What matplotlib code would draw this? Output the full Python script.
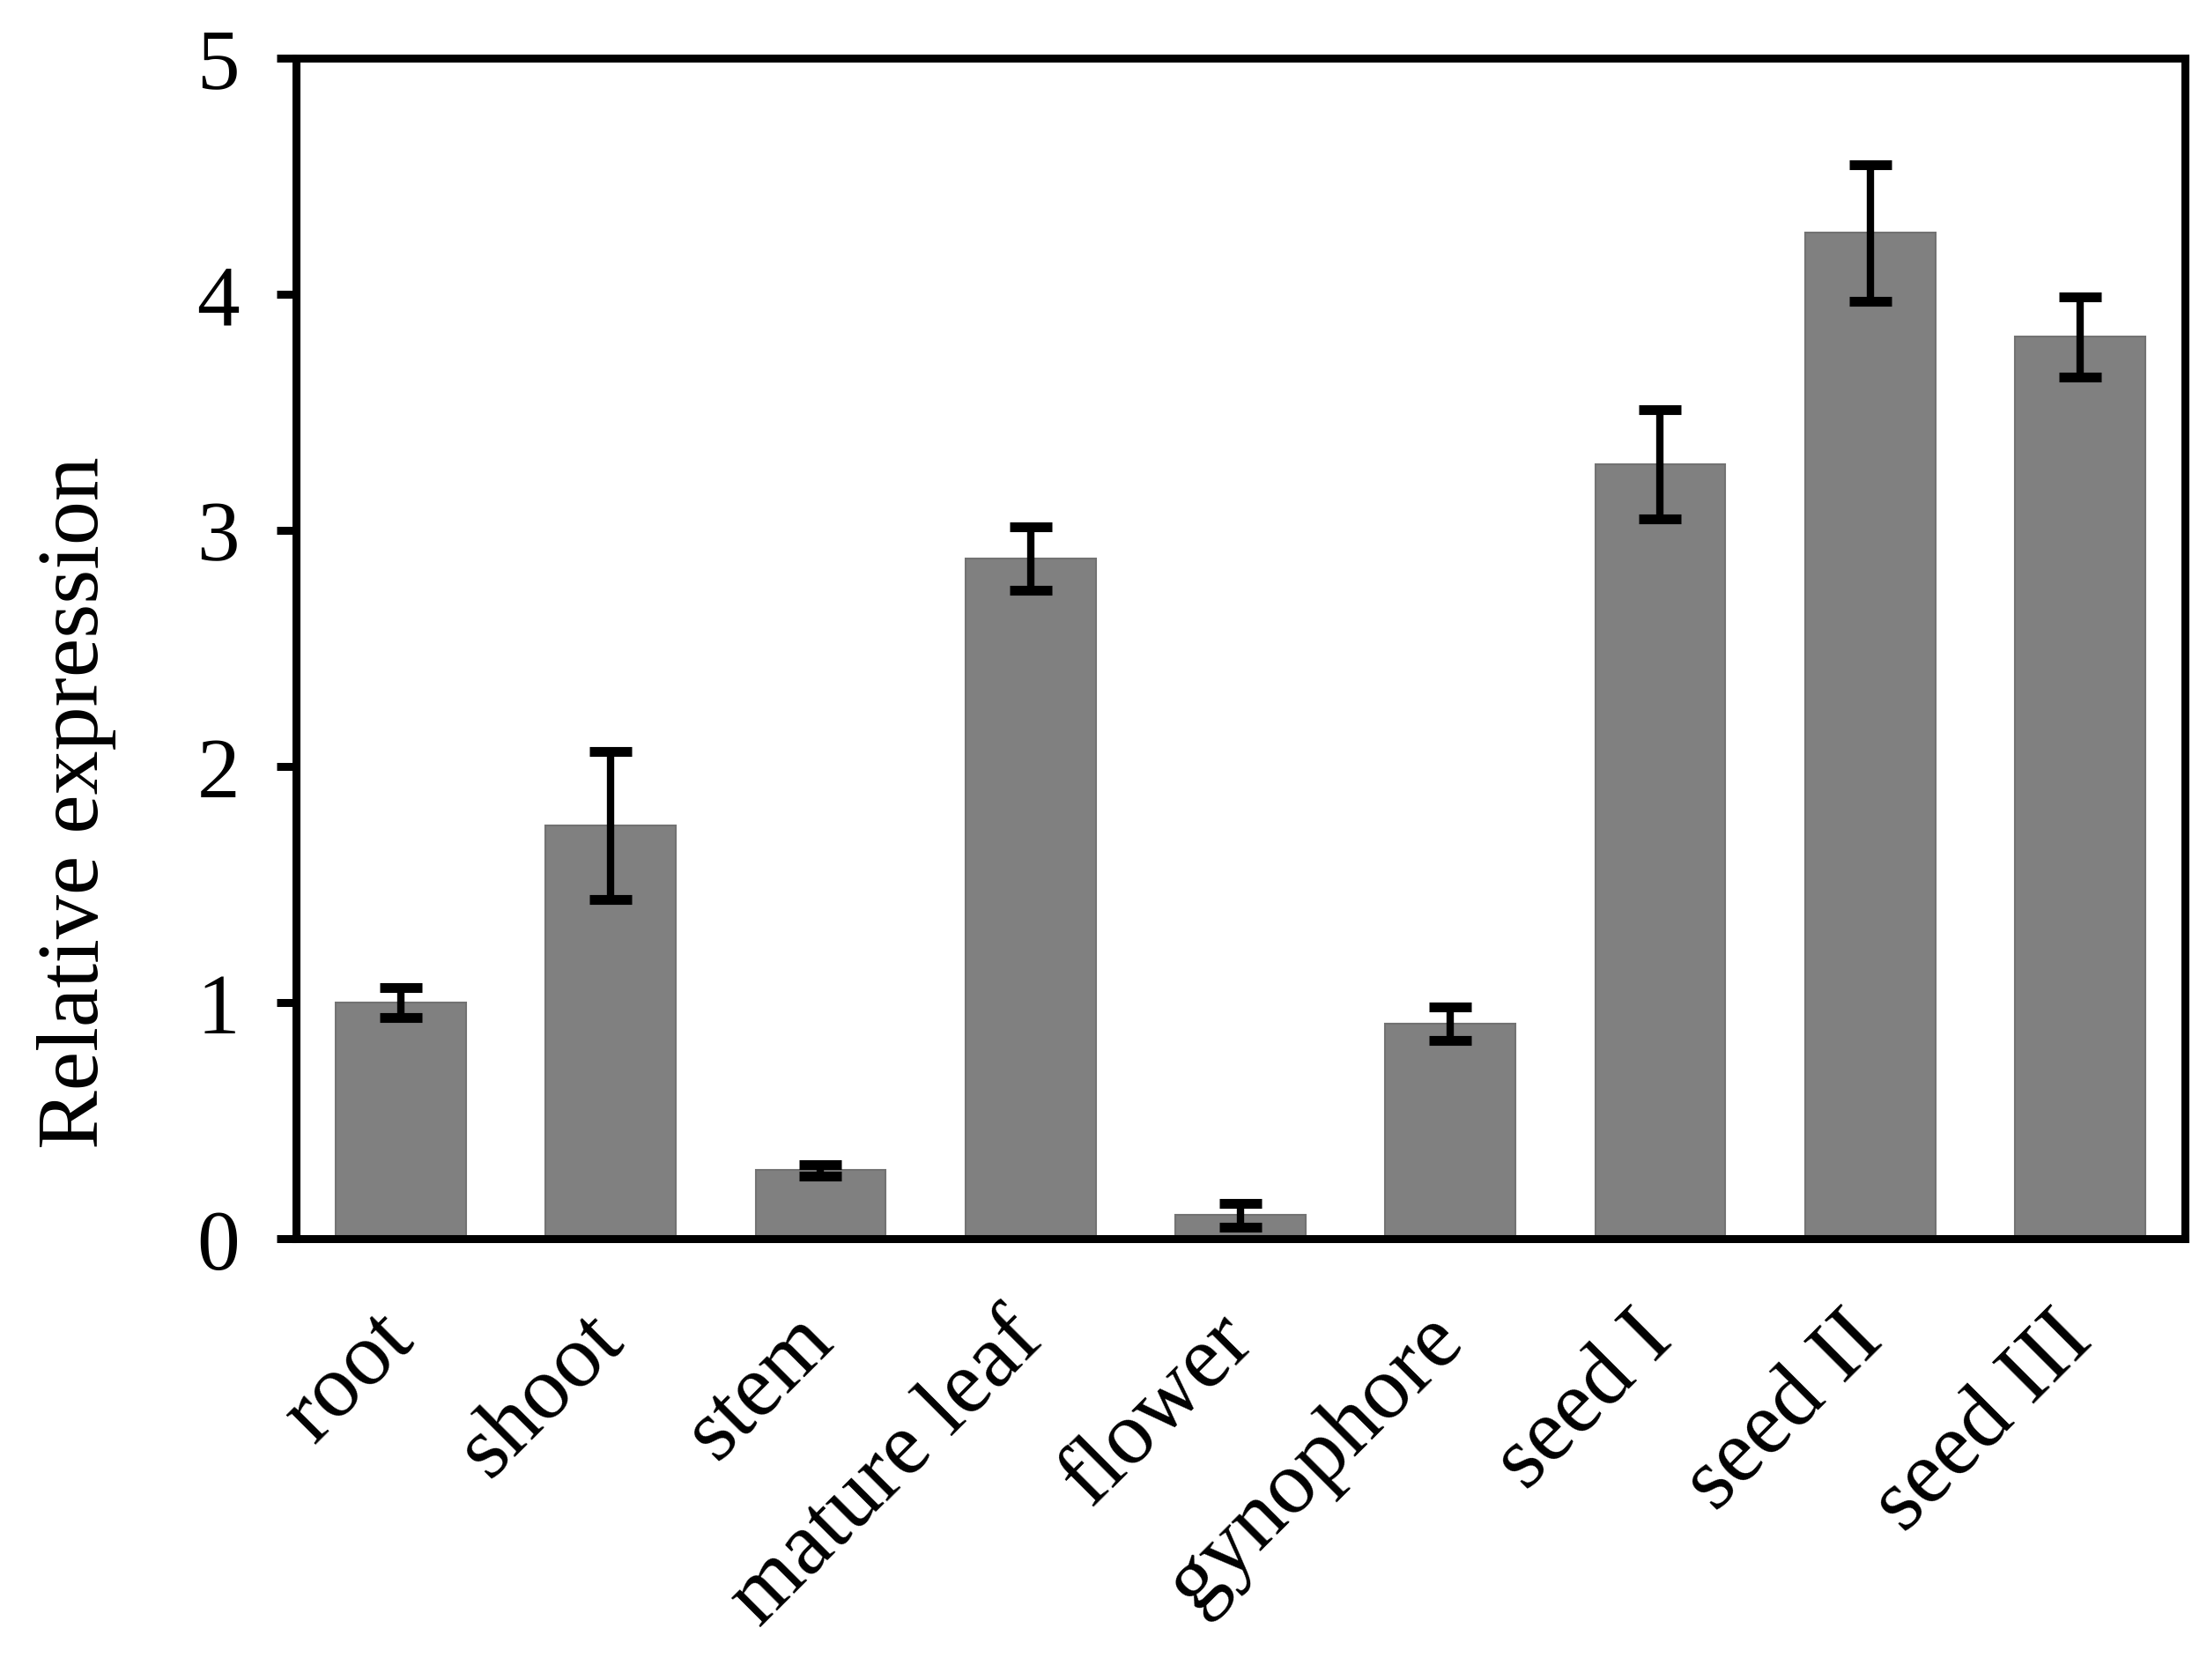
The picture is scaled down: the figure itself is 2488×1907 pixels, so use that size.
import matplotlib
matplotlib.use("Agg")
import matplotlib.pyplot as plt
import numpy as np

categories = ["root", "shoot", "stem", "mature leaf", "flower", "gynophore",
              "seed I", "seed II", "seed III"]
values = [1.00, 1.75, 0.29, 2.88, 0.10, 0.91, 3.28, 4.26, 3.82]
errors = [0.065, 0.315, 0.025, 0.135, 0.05, 0.07, 0.23, 0.29, 0.17]
yticks = [0, 1, 2, 3, 4, 5]

plt.rcParams['font.family'] = ['Liberation Serif', 'DejaVu Serif']

fig = plt.figure(figsize=(24.88, 19.08), dpi=100)
ax = fig.add_axes([0.1350, 0.2626, 0.8618, 0.7023])

x = np.arange(len(categories))
ax.bar(x, values, width=0.62, color="#808080", edgecolor="#727272", linewidth=1.5,
       zorder=2)
eb = ax.errorbar(x, values, yerr=errors, fmt="none", ecolor="black",
                 elinewidth=6, capsize=17, capthick=8, zorder=3)
for cap in eb[1]:
    cap.set_solid_capstyle("round")

ax.set_xlim(-0.5, 8.5)
ax.set_ylim(0, 5)
ax.set_yticks(yticks)
ax.set_yticklabels([str(t) for t in yticks])
ax.set_xticks(x)
ax.set_xticklabels(categories, rotation=45, ha="right", va="center",
                   rotation_mode="anchor")

for s in ax.spines.values():
    s.set_linewidth(6.5)
    s.set_color("black")

ax.tick_params(axis="y", direction="out", length=16, width=6.5, pad=30,
               labelsize=70)
ax.tick_params(axis="x", length=0, pad=72, labelsize=73)
ax.set_ylabel("Relative expression", fontsize=72)
ax.yaxis.set_label_coords(-0.095, 0.37)

fig.savefig("out.png", dpi=100, facecolor="white")
